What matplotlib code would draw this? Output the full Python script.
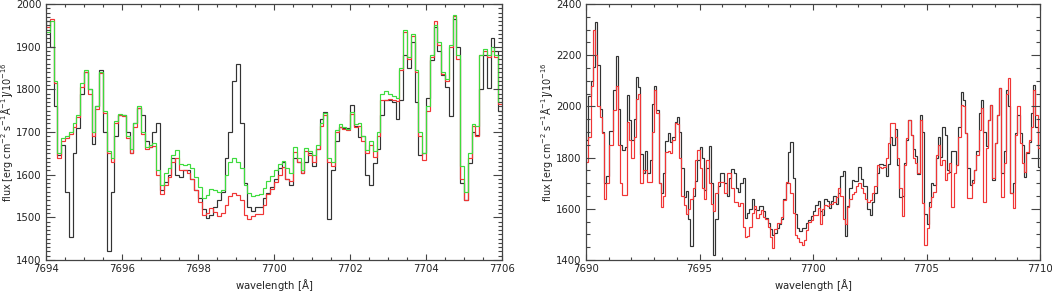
import numpy as np
import matplotlib
matplotlib.use("Agg")
import matplotlib.pyplot as plt
from matplotlib.ticker import MultipleLocator

# spectral sampling (bin edges start + n * step)
WAVE_START = 7690.0      # first edge of the black spectrum
LEFT_START = 7694.0      # first edge of the two comparison spectra (left panel)
BIN = 0.1                # Angstrom per bin

# observed spectrum, shown in both panels
black_flux = [
    1870, 2040, 2100, 2155, 2330, 2160, 1990, 1900, 1700, 1730,
    1905, 1905, 2065, 2195, 1990, 1850, 1830, 1840, 2045, 1945,
    1870, 1950, 2115, 2075, 1815, 1740, 1825, 1740, 1790, 2010,
    2080, 1985, 1700, 1660, 1740, 1865, 1895, 1860, 1880, 1940,
    1960, 1900, 1760, 1646, 1670, 1560, 1455, 1650, 1710, 1790,
    1840, 1800, 1673, 1760, 1845, 1700, 1420, 1560, 1690, 1740,
    1740, 1700, 1650, 1720, 1757, 1740, 1680, 1665, 1700, 1720,
    1565, 1583, 1600, 1640, 1600, 1595, 1610, 1610, 1590, 1564,
    1545, 1520, 1498, 1505, 1525, 1540, 1560, 1640, 1700, 1820,
    1860, 1720, 1580, 1525, 1515, 1525, 1525, 1545, 1556, 1570,
    1590, 1615, 1630, 1590, 1575, 1640, 1630, 1605, 1630, 1650,
    1620, 1660, 1730, 1748, 1495, 1610, 1680, 1712, 1709, 1709,
    1763, 1715, 1689, 1690, 1600, 1576, 1627, 1660, 1740, 1775,
    1775, 1770, 1730, 1775, 1880, 1850, 1910, 1770, 1646, 1650,
    1780, 1869, 1947, 1890, 1834, 1806, 1737, 1966, 1900, 1580,
    1541, 1627, 1700, 1693, 1800, 1880, 1802, 1920, 1890, 1750,
    1745, 1825, 1825, 1771, 1921, 2058, 2025, 1895, 1758, 1693,
    1713, 1752, 1825, 1973, 2025, 1901, 1845, 1947, 2006, 1713,
    1858, 1966, 2071, 1739, 1825, 2064, 2000, 1660, 1700, 1895,
    1966, 1895, 1851, 1726, 1817, 1862, 1973, 2084, 1921, 1765,
]

# left panel comparison spectra (7694-7706)
red_left = [
    1945, 1965, 1815, 1640, 1680, 1685, 1695, 1712, 1735, 1805,
    1840, 1790, 1690, 1755, 1838, 1745, 1650, 1630, 1720, 1740,
    1738, 1685, 1650, 1712, 1757, 1695, 1660, 1665, 1668, 1600,
    1555, 1575, 1595, 1630, 1640, 1612, 1610, 1605, 1590, 1565,
    1535, 1505, 1510, 1522, 1512, 1503, 1510, 1530, 1550, 1556,
    1552, 1540, 1505, 1495, 1502, 1507, 1508, 1530, 1555, 1567,
    1582, 1600, 1618, 1590, 1585, 1652, 1630, 1603, 1656, 1645,
    1630, 1660, 1714, 1740, 1630, 1620, 1700, 1712, 1708, 1704,
    1742, 1712, 1715, 1680, 1650, 1670, 1642, 1690, 1775, 1775,
    1778, 1775, 1772, 1845, 1935, 1870, 1925, 1840, 1690, 1635,
    1750, 1875, 1960, 1905, 1835, 1820, 1900, 1972, 1870, 1590,
    1540, 1640, 1715, 1690, 1880, 1890, 1875, 1890, 1875, 1765,
]
green_left = [
    1935, 1960, 1820, 1650, 1685, 1690, 1700, 1720, 1740, 1815,
    1845, 1800, 1700, 1760, 1840, 1750, 1655, 1640, 1725, 1742,
    1740, 1690, 1660, 1720, 1760, 1700, 1665, 1670, 1675, 1612,
    1575, 1603, 1615, 1645, 1658, 1625, 1622, 1625, 1615, 1595,
    1570, 1545, 1552, 1567, 1565, 1560, 1565, 1600, 1630, 1638,
    1630, 1615, 1575, 1556, 1550, 1553, 1555, 1568, 1585, 1598,
    1610, 1625, 1632, 1615, 1605, 1665, 1640, 1612, 1663, 1655,
    1645, 1670, 1720, 1745, 1640, 1630, 1705, 1718, 1712, 1708,
    1748, 1718, 1722, 1690, 1657, 1680, 1655, 1700, 1790, 1795,
    1790, 1785, 1780, 1850, 1940, 1875, 1930, 1845, 1700, 1650,
    1760, 1880, 1950, 1910, 1840, 1825, 1905, 1975, 1880, 1620,
    1560, 1650, 1718, 1715, 1880, 1895, 1880, 1900, 1880, 1770,
]

# right panel comparison spectrum (7690-7710)
red_right = [
    1784, 1880, 2080, 2300, 2200, 2000, 1960, 1895, 1640, 1700,
    1849, 1849, 1986, 2080, 1850, 1700, 1654, 1654, 1940, 1870,
    1800, 1880, 2030, 2050, 1700, 1752, 1752, 1706, 1706, 1900,
    2064, 1973, 1700, 1608, 1650, 1820, 1825, 1817, 1869, 1934,
    1930, 1800, 1650, 1615, 1580, 1600, 1640, 1680, 1790, 1830,
    1760, 1680, 1640, 1790, 1700, 1620, 1590, 1660, 1706, 1706,
    1706, 1660, 1739, 1739, 1680, 1625, 1625, 1610, 1621, 1530,
    1490, 1495, 1530, 1582, 1610, 1563, 1580, 1595, 1569, 1560,
    1530, 1491, 1446, 1520, 1543, 1545, 1569, 1634, 1706, 1700,
    1660, 1582, 1498, 1485, 1472, 1459, 1480, 1517, 1550, 1556,
    1576, 1576, 1602, 1540, 1600, 1615, 1610, 1620, 1620, 1625,
    1645, 1680, 1650, 1560, 1540, 1608, 1640, 1656, 1665, 1690,
    1700, 1680, 1660, 1640, 1628, 1634, 1660, 1690, 1770, 1765,
    1760, 1765, 1800, 1856, 1934, 1934, 1880, 1800, 1680, 1570,
    1770, 1875, 1947, 1890, 1800, 1780, 1740, 1947, 1621, 1459,
    1524, 1608, 1647, 1667, 1810, 1849, 1771, 1791, 1713, 1740,
    1778, 1608, 1739, 1771, 1882, 2006, 2000, 1895, 1641, 1641,
    1700, 1752, 1810, 1908, 1993, 1628, 1836, 1947, 2006, 1719,
    1856, 1966, 2071, 1647, 1778, 2050, 2110, 1660, 1602, 1888,
    2000, 1856, 1778, 1745, 1823, 1869, 1921, 2064, 1966, 1836,
]

C_BLACK = "#333333"
C_RED = "#f03535"
C_GREEN = "#3ddc3d"
C_AXIS = "#444444"
YLABEL = r"flux [erg cm$^{-2}$ s$^{-1}$$\mathrm{\AA}^{-1}$]/10$^{-16}$"


def edges(start, n):
    return start + BIN * np.arange(n + 1)


def style_axis(ax, xmaj, xmin, ymaj, ymin, ylab_x):
    ax.xaxis.set_major_locator(MultipleLocator(xmaj))
    ax.xaxis.set_minor_locator(MultipleLocator(xmin))
    ax.yaxis.set_major_locator(MultipleLocator(ymaj))
    ax.yaxis.set_minor_locator(MultipleLocator(ymin))
    ax.tick_params(axis="both", which="both", direction="in",
                   top=True, right=True, colors=C_AXIS, width=0.8,
                   labelsize=7.3, labelcolor="#222222", pad=3)
    ax.tick_params(axis="x", which="major", length=4)
    ax.tick_params(axis="x", which="minor", length=2)
    ax.tick_params(axis="y", which="major", length=6.5)
    ax.tick_params(axis="y", which="minor", length=3.2)
    for s in ax.spines.values():
        s.set_color(C_AXIS)
        s.set_linewidth(0.9)
    ax.set_xlabel(r"wavelength [$\mathrm{\AA}$]", fontsize=7.3,
                  color="#222222", labelpad=2)
    ax.set_ylabel(YLABEL, fontsize=6.9, color="#222222")
    # right edge of the rotated label, in axes fraction
    ax.yaxis.set_label_coords(ylab_x, 0.5)


fig = plt.figure(figsize=(10.52, 2.94), dpi=100)
ax_l = fig.add_axes([46 / 1052, 34 / 294, 456 / 1052, 256 / 294])
ax_r = fig.add_axes([586 / 1052, 34 / 294, 454 / 1052, 256 / 294])

lw = 0.85
e_black = edges(WAVE_START, len(black_flux))
e_left = edges(LEFT_START, len(red_left))
e_right = edges(WAVE_START, len(red_right))

ax_l.stairs(black_flux, e_black, baseline=None, color=C_BLACK, lw=lw)
ax_l.stairs(red_left, e_left, baseline=None, color=C_RED, lw=lw)
ax_l.stairs(green_left, e_left, baseline=None, color=C_GREEN, lw=lw)
ax_l.set_xlim(7694, 7706)
ax_l.set_ylim(1400, 2000)
style_axis(ax_l, 2, 0.5, 100, 10, -0.069)

ax_r.stairs(black_flux, e_black, baseline=None, color=C_BLACK, lw=lw)
ax_r.stairs(red_right, e_right, baseline=None, color=C_RED, lw=lw)
ax_r.set_xlim(7690, 7710)
ax_r.set_ylim(1400, 2400)
style_axis(ax_r, 5, 1, 200, 50, -0.068)

fig.savefig("out.png", dpi=100)
